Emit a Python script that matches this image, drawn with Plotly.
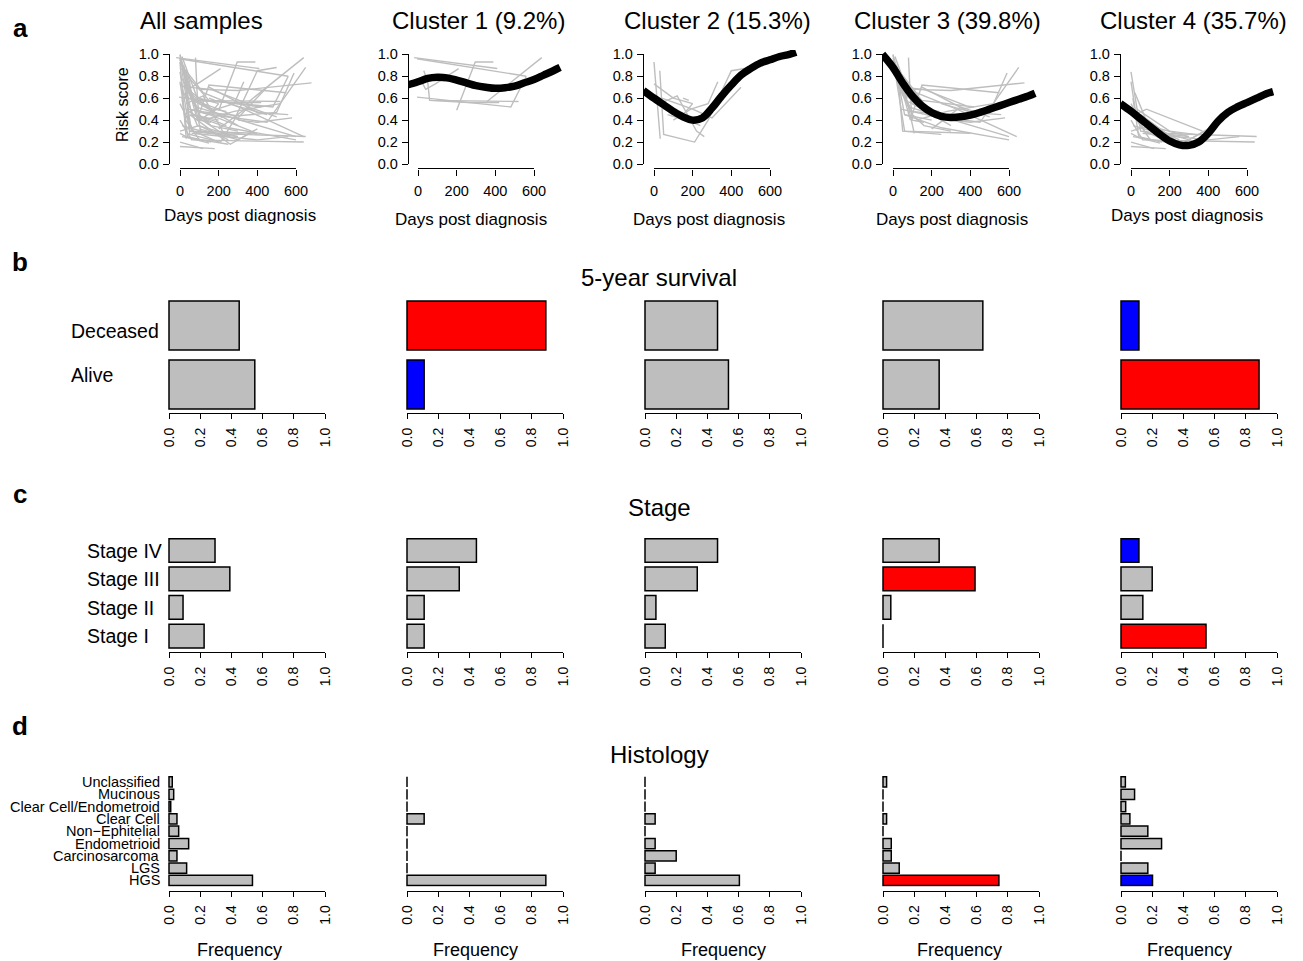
import plotly.graph_objects as go

# ---------------------------------------------------------------- data
PANEL_TITLES = ["All samples", "Cluster 1 (9.2%)", "Cluster 2 (15.3%)",
                "Cluster 3 (39.8%)", "Cluster 4 (35.7%)"]
DAY_TICKS = [0, 200, 400, 600]
SCORE_TICKS = [0.0, 0.2, 0.4, 0.6, 0.8, 1.0]
FREQ_TICKS = [0.0, 0.2, 0.4, 0.6, 0.8, 1.0]

# per-patient risk-score trajectories (days, scores)
C1_DAYS = [[-20, 410], [-5, 560], [-5, 480, 560], [30, 50, 60, 520],
           [200, 296, 390], [10, 40, 90, 150, 210], [357, 640], [60, 260, 420]]
C1_SCORES = [[0.97, 0.87], [0.96, 0.80], [0.61, 0.52, 0.80], [0.85, 0.75, 0.58, 0.57],
             [0.49, 0.93, 0.93], [0.78, 0.68, 0.73, 0.80, 0.87], [0.57, 0.97], [0.58, 0.56, 0.56]]

C2_DAYS = [[0, 32], [0, 100, 200], [30, 50, 210, 280, 400, 500], [30, 120, 220, 260],
           [50, 150, 200], [100, 190, 280, 330], [40, 200, 300, 450], [70, 200, 240],
           [150, 180]]
C2_SCORES = [[0.93, 0.23], [0.73, 0.60, 0.55], [0.85, 0.27, 0.20, 0.40, 0.85, 0.88],
             [0.55, 0.62, 0.30, 0.25], [0.50, 0.45, 0.55], [0.40, 0.50, 0.55, 0.75],
             [0.60, 0.50, 0.42, 0.70], [0.45, 0.38, 0.35], [0.60, 0.58]]

C3_DAYS = [[0, 60, 200], [10, 100, 300], [0, 40, 160, 380], [20, 50, 250],
           [0, 90, 150, 550], [30, 80, 600], [0, 120, 330, 640], [10, 60, 400],
           [80, 90, 100, 160], [20, 100, 300, 500, 590], [40, 200, 450, 650],
           [0, 150, 420], [60, 250, 600], [30, 100, 160, 300], [100, 300, 680],
           [150, 400, 560], [50, 120, 220], [200, 350, 500], [250, 450],
           [0, 70, 110], [120, 280, 520], [300, 400, 580], [60, 170, 240]]
C3_SCORES = [[1.00, 0.45, 0.40], [0.98, 0.55, 0.35], [0.95, 0.70, 0.68, 0.53], [0.90, 0.30, 0.27],
             [0.97, 0.40, 0.72, 0.65], [0.80, 0.52, 0.25], [0.92, 0.65, 0.50, 0.25], [0.85, 0.30, 0.28],
             [0.97, 0.60, 0.40, 0.38], [0.75, 0.48, 0.44, 0.47, 0.83], [0.50, 0.44, 0.38, 0.88],
             [0.88, 0.58, 0.52], [0.45, 0.33, 0.22], [0.70, 0.45, 0.35, 0.30], [0.68, 0.67, 0.74],
             [0.70, 0.47, 0.45], [0.65, 0.55, 0.42], [0.32, 0.52, 0.43], [0.55, 0.45],
             [0.99, 0.60, 0.28], [0.40, 0.48, 0.55], [0.40, 0.38, 0.42], [0.58, 0.50, 0.48]]

C4_DAYS = [[0, 50, 300], [10, 40, 160], [0, 30, 100], [20, 80, 370], [0, 60, 640],
           [10, 150, 650], [0, 120], [30, 200, 330], [0, 100, 250], [50, 260, 380],
           [0, 180], [20, 90, 300], [60, 400, 560], [0, 70, 200], [10, 250],
           [100, 300, 400], [0, 40, 150]]
C4_SCORES = [[0.84, 0.30, 0.25], [0.60, 0.25, 0.20], [0.75, 0.40, 0.22], [0.45, 0.50, 0.30],
             [0.40, 0.22, 0.20], [0.35, 0.28, 0.25], [0.20, 0.14], [0.50, 0.30, 0.27],
             [0.30, 0.35, 0.22], [0.45, 0.18, 0.30], [0.16, 0.14], [0.65, 0.35, 0.25],
             [0.28, 0.22, 0.25], [0.55, 0.30, 0.20], [0.25, 0.18], [0.32, 0.22, 0.32],
             [0.28, 0.24, 0.19]]

# cluster trend curves
TREND_DAYS = [-55, 0, 50, 100, 150, 200, 250, 300, 350, 400, 450, 500, 550, 600, 650, 700, 735]
C1_TREND = [0.72, 0.75, 0.78, 0.79, 0.785, 0.765, 0.74, 0.715, 0.70, 0.69, 0.695, 0.71, 0.74, 0.77, 0.81, 0.85, 0.88]
C2_TREND = [0.67, 0.60, 0.54, 0.48, 0.43, 0.40, 0.42, 0.51, 0.62, 0.72, 0.81, 0.87, 0.92, 0.95, 0.98, 1.00, 1.02]
C3_TREND = [1.00, 0.88, 0.74, 0.62, 0.53, 0.47, 0.435, 0.425, 0.43, 0.445, 0.47, 0.50, 0.53, 0.56, 0.59, 0.62, 0.645]
C4_TREND = [0.55, 0.48, 0.41, 0.34, 0.27, 0.21, 0.175, 0.17, 0.20, 0.28, 0.39, 0.47, 0.52, 0.56, 0.60, 0.64, 0.66]

SURV_CATS = ["Deceased", "Alive"]
ALL_SURV = [0.45, 0.55]
C1_SURV = [0.89, 0.11]
C2_SURV = [0.465, 0.535]
C3_SURV = [0.64, 0.36]
C4_SURV = [0.115, 0.885]

STAGE_CATS = ["Stage IV", "Stage III", "Stage II", "Stage I"]
ALL_STAGE = [0.295, 0.39, 0.09, 0.225]
C1_STAGE = [0.445, 0.335, 0.11, 0.11]
C2_STAGE = [0.465, 0.335, 0.07, 0.13]
C3_STAGE = [0.36, 0.59, 0.05, 0.0]
C4_STAGE = [0.115, 0.20, 0.14, 0.545]

HIST_CATS = ["Unclassified", "Mucinous", "Clear Cell/Endometroid", "Clear Cell",
             "Non\u2212Ephitelial", "Endometrioid", "Carcinosarcoma", "LGS", "HGS"]
ALL_HIST = [0.021, 0.03, 0.011, 0.051, 0.062, 0.126, 0.051, 0.113, 0.535]
C1_HIST = [0.0, 0.0, 0.0, 0.11, 0.0, 0.0, 0.0, 0.0, 0.89]
C2_HIST = [0.0, 0.0, 0.0, 0.065, 0.0, 0.065, 0.20, 0.065, 0.605]
C3_HIST = [0.023, 0.0, 0.0, 0.023, 0.0, 0.053, 0.053, 0.104, 0.743]
C4_HIST = [0.028, 0.087, 0.03, 0.057, 0.172, 0.26, 0.0, 0.172, 0.202]

# ---------------------------------------------------------------- styles / geometry
W, H = 1303, 961
FONT = "Liberation Sans, Arial, Helvetica, sans-serif"
GREY = "#BEBEBE"
RED = "#FF0000"
BLUE = "#0000FF"

SURV_COLORS = [[GREY, GREY], [RED, BLUE], [GREY, GREY], [GREY, GREY], [BLUE, RED]]
STAGE_COLORS = [[GREY] * 4, [GREY] * 4, [GREY] * 4,
                [GREY, RED, GREY, GREY], [BLUE, GREY, GREY, RED]]
HIST_COLORS = [[GREY] * 9, [GREY] * 9, [GREY] * 9,
               [GREY] * 8 + [RED], [GREY] * 8 + [BLUE]]

YAX_PX = [169, 408, 643, 882, 1120]
DAY0_PX = [180, 418, 654, 893, 1131]
PX_PER_DAY = 116 / 600
DAY_MAX = 770
Y0_PX, Y1_PX = 164, 54.3

BAR_X0 = [169, 407, 645, 883, 1121]
BAR_W = 156


def px_x(p):
    return p / W


def px_y(p):
    return 1 - p / H


fig = go.Figure()
axes_layout = {}
counter = {"n": 0}


def names(k):
    s = "" if k == 1 else str(k)
    return "xaxis" + s, "yaxis" + s, "x" + s, "y" + s


HIDDEN = dict(visible=False, showgrid=False, zeroline=False, fixedrange=True, automargin=False)


def data_pair(xdom, xrange, ydom, yrange, cats=None):
    counter["n"] += 1
    xa, ya, xr, yr = names(counter["n"])
    axes_layout[xa] = dict(HIDDEN, domain=xdom, range=xrange, anchor=yr)
    yd = dict(HIDDEN, domain=ydom, range=yrange, anchor=xr)
    if cats is not None:
        yd.update(type="category", categoryorder="array", categoryarray=cats)
    axes_layout[ya] = yd
    return xr, yr


def axis_style(tickvals, ticktext, ticklen, fontsize, standoff):
    return dict(showline=True, linecolor="black", linewidth=1.3, ticks="outside",
                ticklen=ticklen, tickwidth=1.3, tickcolor="black",
                tickvals=tickvals, ticktext=ticktext,
                tickfont=dict(size=fontsize, color="black", family=FONT),
                showgrid=False, zeroline=False, fixedrange=True, automargin=False,
                ticklabelstandoff=standoff)


def deco_pair(xspec, yspec):
    """Axis-only subplot: each spec is None (hidden) or a dict of visible axis settings."""
    counter["n"] += 1
    xa, ya, xr, yr = names(counter["n"])
    axes_layout[xa] = xspec if xspec is not None else dict(HIDDEN, domain=[0, 1], range=[0, 1], anchor=yr)
    axes_layout[ya] = yspec if yspec is not None else dict(HIDDEN, domain=[0, 1], range=[0, 1], anchor=xr)
    # empty helper trace so the axis-only subplot gets drawn
    fig.add_trace(go.Scatter(x=[None], y=[None], mode="markers", xaxis=xr, yaxis=yr,
                             hoverinfo="skip", showlegend=False))


def xspec(xdom, xrange, pos_py, tickvals, ticktext, ticklen, fontsize, standoff, angle=0):
    d = axis_style(tickvals, ticktext, ticklen, fontsize, standoff)
    d.update(domain=xdom, range=xrange, anchor="free", position=px_y(pos_py), tickangle=angle,
             side="bottom")
    return d


def yspec(ydom, yrange, pos_px, tickvals, ticktext, ticklen, fontsize, standoff):
    d = axis_style(tickvals, ticktext, ticklen, fontsize, standoff)
    d.update(domain=ydom, range=yrange, anchor="free", position=px_x(pos_px), side="left")
    return d


annotations = []


def label(x, y, s, size, xanchor="center", yanchor="middle", angle=0, xref="paper", yref="paper", bold=False):
    annotations.append(dict(
        x=x, y=y, xref=xref, yref=yref, text=("<b>%s</b>" % s) if bold else s,
        showarrow=False, xanchor=xanchor, yanchor=yanchor, textangle=angle,
        font=dict(size=size, color="black", family=FONT)))


# ---------------------------------------------------------------- row a: trajectories
ALL_DAYS = C1_DAYS + C2_DAYS + C3_DAYS + C4_DAYS
ALL_SCORES = C1_SCORES + C2_SCORES + C3_SCORES + C4_SCORES
row_a = [(ALL_DAYS, ALL_SCORES, None), (C1_DAYS, C1_SCORES, C1_TREND),
         (C2_DAYS, C2_SCORES, C2_TREND), (C3_DAYS, C3_SCORES, C3_TREND),
         (C4_DAYS, C4_SCORES, C4_TREND)]

score_px = (Y0_PX - Y1_PX)
y_region = [Y0_PX + 0.04 * score_px, Y1_PX - 0.04 * score_px]
TITLE_X = [202, 478, 718, 947, 1193]
DAYS_LABEL_X = [240, 471, 709, 952, 1187]
DAYS_LABEL_Y = [215, 219, 219, 219, 215]

for i, (dl, sl, trend) in enumerate(row_a):
    xmin = (YAX_PX[i] - DAY0_PX[i]) / PX_PER_DAY
    xr, yr = data_pair([px_x(YAX_PX[i]), px_x(DAY0_PX[i] + DAY_MAX * PX_PER_DAY)], [xmin, DAY_MAX],
                       [px_y(y_region[0]), px_y(y_region[1])], [-0.04, 1.04])
    xs, ys = [], []
    for d, s in zip(dl, sl):
        xs += d + [None]
        ys += s + [None]
    fig.add_trace(go.Scatter(x=xs, y=ys, mode="lines", line=dict(color=GREY, width=1.4),
                             xaxis=xr, yaxis=yr, hoverinfo="skip", showlegend=False))
    if trend is not None:
        fig.add_trace(go.Scatter(x=TREND_DAYS, y=trend, mode="lines",
                                 line=dict(color="black", width=7.5, shape="spline"),
                                 xaxis=xr, yaxis=yr, hoverinfo="skip", showlegend=False))
    deco_pair(
        xspec([px_x(DAY0_PX[i]), px_x(DAY0_PX[i] + 600 * PX_PER_DAY)], [0, 600], y_region[0],
              DAY_TICKS, [str(t) for t in DAY_TICKS], 6, 14.5, 3),
        yspec([px_y(Y0_PX), px_y(Y1_PX)], [0, 1], YAX_PX[i],
              SCORE_TICKS, ["%.1f" % t for t in SCORE_TICKS], 6, 14.5, 1))
    label(px_x(TITLE_X[i]), px_y(20), PANEL_TITLES[i], 24)
    label(px_x(DAYS_LABEL_X[i]), px_y(DAYS_LABEL_Y[i]), "Days post diagnosis", 17)

label(px_x(122), px_y(105), "Risk score", 16, angle=-90)

# ---------------------------------------------------------------- bar rows


def bar_panel(i, cats, vals, colors, center_top, pitch, axis_py):
    n = len(cats)
    x0 = BAR_X0[i]
    top = center_top - pitch / 2
    bottom = center_top + pitch * (n - 1) + pitch / 2
    xr, yr = data_pair([px_x(x0 - 0.04 * BAR_W), px_x(x0 + 1.04 * BAR_W)], [-0.04, 1.04],
                       [px_y(bottom), px_y(top)], [n - 0.5, -0.5], cats=cats)
    fig.add_trace(go.Bar(x=vals, y=cats, orientation="h",
                         marker=dict(color=colors, line=dict(color="black", width=1.5)),
                         xaxis=xr, yaxis=yr, hoverinfo="skip", showlegend=False))
    deco_pair(xspec([px_x(x0), px_x(x0 + BAR_W)], [0, 1], axis_py,
                    FREQ_TICKS, ["%.1f" % t for t in FREQ_TICKS], 5, 14, 3, angle=-90), None)
    return yr


surv = [ALL_SURV, C1_SURV, C2_SURV, C3_SURV, C4_SURV]
stage = [ALL_STAGE, C1_STAGE, C2_STAGE, C3_STAGE, C4_STAGE]
hist = [ALL_HIST, C1_HIST, C2_HIST, C3_HIST, C4_HIST]
FREQ_X = [239, 475, 723, 959, 1189]

for i in range(5):
    bar_panel(i, SURV_CATS, surv[i], SURV_COLORS[i], 325.5, 59, 413)
    yr_stage = bar_panel(i, STAGE_CATS, stage[i], STAGE_COLORS[i], 550.5, 28.5, 652)
    yr_hist = bar_panel(i, HIST_CATS, hist[i], HIST_COLORS[i], 782, 12.31, 890.5)
    label(px_x(FREQ_X[i]), px_y(950), "Frequency", 18)
    if i == 0:
        label(px_x(69), px_y(331), "Deceased", 19.5, xanchor="left")
        label(px_x(69), px_y(375), "Alive", 19.5, xanchor="left")
        for c in STAGE_CATS:
            label(px_x(85), c, c, 19.5, xanchor="left", yref=yr_stage)
        for c in HIST_CATS:
            label(px_x(162), c, c, 14.5, xanchor="right", yref=yr_hist)

# section titles & panel letters
label(px_x(659), px_y(277), "5-year survival", 24)
label(px_x(659), px_y(507), "Stage", 24)
label(px_x(659), px_y(754), "Histology", 24)
for letter, y in [("a", 28), ("b", 262), ("c", 494), ("d", 726)]:
    label(px_x(20), px_y(y), letter, 26, bold=True)

fig.update_layout(
    width=W, height=H, autosize=False,
    margin=dict(l=0, r=0, t=0, b=0, pad=0, autoexpand=False),
    paper_bgcolor="white", plot_bgcolor="rgba(0,0,0,0)",
    bargap=1 / 6, showlegend=False,
    font=dict(family=FONT, color="black"),
    annotations=annotations,
    **axes_layout)

fig.write_html("out.html", config={"displayModeBar": False},
               post_script="document.body.style.margin='0';")
